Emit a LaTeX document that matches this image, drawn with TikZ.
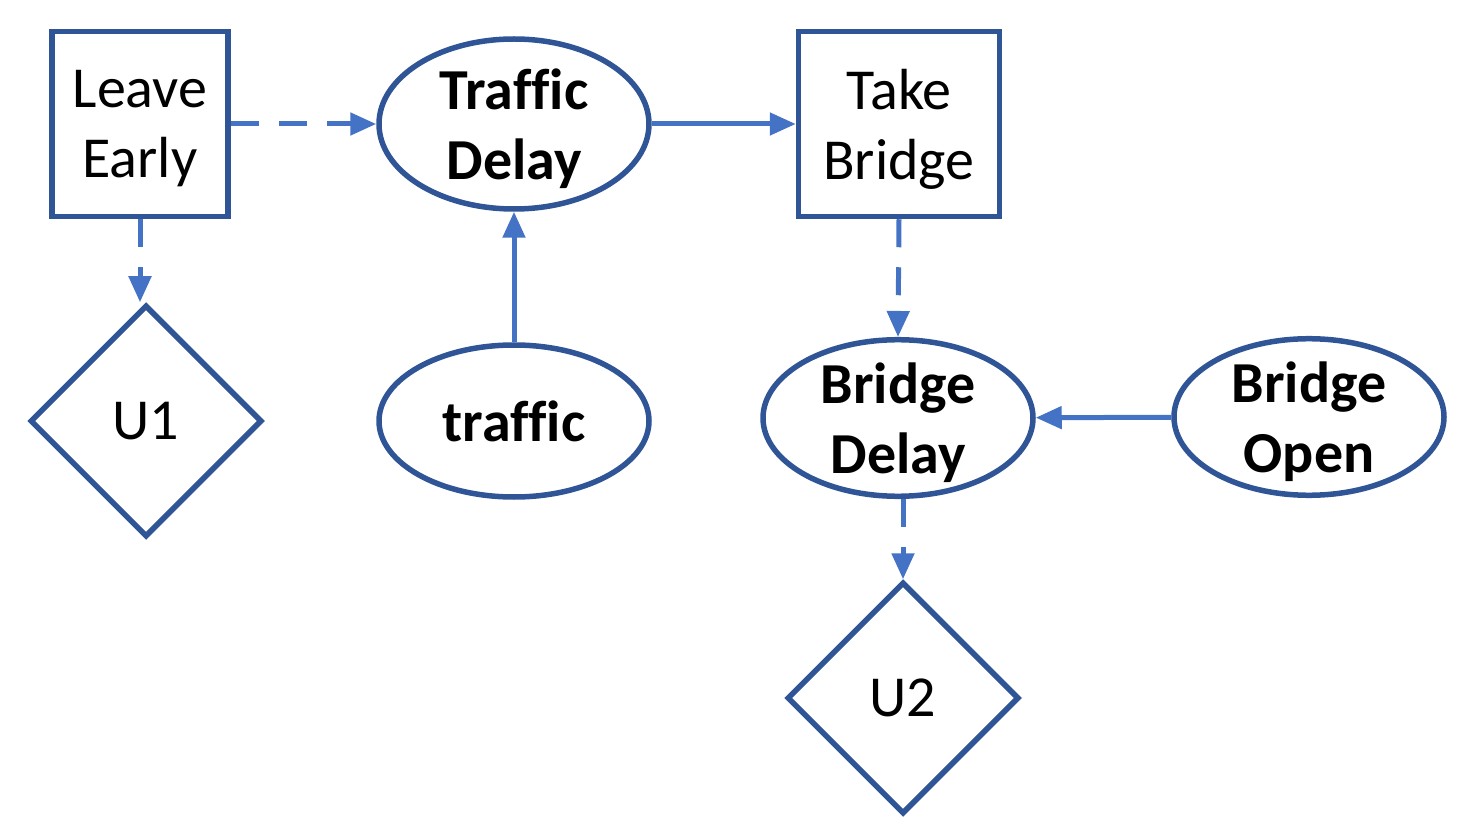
\documentclass[tikz,border=0pt]{standalone}
\usepackage{fontspec}
\setmainfont[Ligatures=NoCommon]{Carlito}
\usetikzlibrary{shapes.geometric,arrows.meta}
\definecolor{outl}{HTML}{2F5597}
\definecolor{arr}{HTML}{4472C4}
\begin{document}
\begin{tikzpicture}[x=1pt,y=-1pt,
  every node/.style={font=\fontsize{58}{70}\selectfont, align=center, inner sep=0pt, line width=5.5pt, draw=outl},
  two/.style={text depth=0pt},
  dec/.style={rectangle, minimum height=185pt},
  chance/.style={ellipse, minimum width=270pt, font=\fontsize{58}{70}\selectfont\bfseries},
  util/.style={diamond, aspect=1, minimum width=232pt, minimum height=232pt},
  conn/.style={draw=arr, line width=5pt, -{Triangle[length=26pt,width=22pt]}},
  dconn/.style={conn, dash pattern=on 28pt off 20pt}]
\useasboundingbox (0,0) rectangle (1460,834);
\node[dec, two, minimum width=176pt] (le) at (140,124) {Leave\\Early};
\node[chance, two, minimum height=170pt] (td) at (514,124) {Traffic\\Delay};
\node[dec, two, minimum width=201pt] (tb) at (899,124) {Take\\Bridge};
\node[util] (u1) at (146,421) {U1};
\node[chance, minimum height=152pt] (tr) at (514,421) {traffic};
\node[chance, two, minimum height=152pt] (bd) at (898,418) {Bridge\\Delay};
\node[chance, two, minimum height=153pt] (bo) at (1309,417) {Bridge\\Open};
\node[util] (u2) at (903,698) {U2};
\draw[dconn] (le) -- (td);
\draw[conn] (td) -- (tb);
\draw[conn] (tr) -- (td);
\draw[dconn] (le.south) -- (le.south |- u1.north);
\draw[dconn] (tb.south) -- (bd.north);
\draw[conn] (bo) -- (bd);
\draw[dconn] (u2.north |- bd.south) -- (u2.north);
\end{tikzpicture}
\end{document}
